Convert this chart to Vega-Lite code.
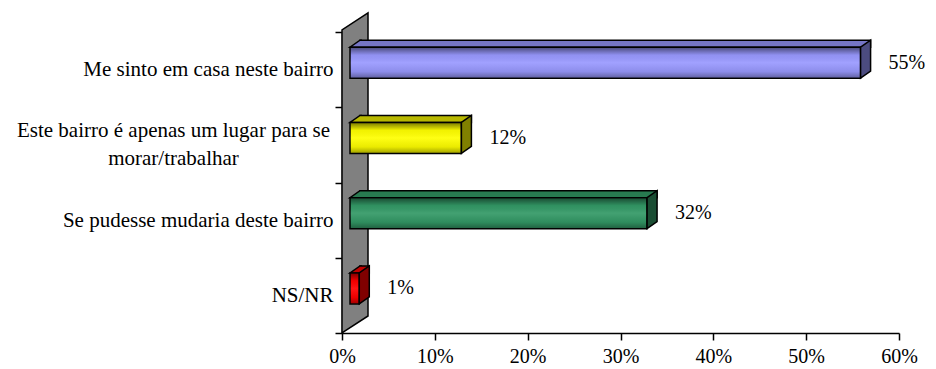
{
  "$schema": "https://vega.github.io/schema/vega-lite/v6.json",
  "width": 557,
  "height": 301,
  "autosize": {"type": "none"},
  "padding": {"left": 342, "top": 32, "right": 37, "bottom": 36},
  "background": "white",
  "config": {
    "view": {"stroke": null},
    "font": "Liberation Serif",
    "style": {"guide-label": {"font": "Liberation Serif"}},
    "axis": {"labelFont": "Liberation Serif", "labelColor": "black", "domainColor": "black", "tickColor": "black", "grid": false, "title": null}
  },
  "data": {
    "values": [
      {"cat": "Me sinto em casa neste bairro", "value": 55},
      {"cat": "Este bairro é apenas um lugar para se morar/trabalhar", "value": 12},
      {"cat": "Se pudesse mudaria deste bairro", "value": 32},
      {"cat": "NS/NR", "value": 1}
    ]
  },
  "transform": [{"calculate": "datum.value + '%'", "as": "label"}],
  "encoding": {
    "y": {
      "field": "cat",
      "type": "nominal",
      "sort": null,
      "scale": {
        "domain": ["Me sinto em casa neste bairro", "Este bairro é apenas um lugar para se morar/trabalhar", "Se pudesse mudaria deste bairro", "NS/NR"],
        "paddingInner": 0,
        "paddingOuter": 0
      },
      "axis": {
        "orient": "left",
        "tickBand": "extent",
        "tickSize": 7,
        "tickWidth": 1.5,
        "domainWidth": 1.5,
        "labelFont": "Liberation Serif",
        "labelFontSize": 21,
        "labelLimit": 400,
        "labelLineHeight": 28,
        "labelBaseline": "middle",
        "labelAlign": {"condition": {"test": "datum.value == 'Este bairro é apenas um lugar para se morar/trabalhar'", "value": "center"}, "value": "right"},
        "labelPadding": {"condition": {"test": "datum.value == 'Este bairro é apenas um lugar para se morar/trabalhar'", "value": 162}, "value": 2},
        "labelOffset": {"condition": {"test": "datum.value == 'Este bairro é apenas um lugar para se morar/trabalhar'", "value": -14}, "value": 0},
        "labelExpr": "datum.value == 'Este bairro é apenas um lugar para se morar/trabalhar' ? ['Este bairro é apenas um lugar para se', 'morar/trabalhar'] : datum.value"
      }
    }
  },
  "layer": [
    {
      "data": {"values": [{}]},
      "mark": {"type": "point", "shape": "M0,37.6L26,20.6L26,-282.4L0,-265.4Z", "size": 4, "filled": true, "fill": "#808080", "stroke": "black", "strokeWidth": 1.5, "opacity": 1},
      "encoding": {
        "x": {"datum": 0, "type": "quantitative"},
        "y": {"datum": "NS/NR", "type": "nominal"}
      }
    },
    {
      "mark": {"type": "bar", "orient": "horizontal", "height": 7, "yOffset": -26, "xOffset": 18, "x2Offset": 18, "stroke": "black", "strokeWidth": 1.5},
      "encoding": {
        "x": {"field": "value", "type": "quantitative", "scale": {"domain": [0, 60], "nice": false}, "axis": {"values": [0, 10, 20, 30, 40, 50, 60], "labelExpr": "datum.value + '%'", "labelFlush": false, "labelOverlap": false, "tickSize": 7, "tickWidth": 1.5, "domainWidth": 1.5, "labelFont": "Liberation Serif", "labelFontSize": 20, "labelPadding": 6}},
        "x2": {"datum": 0},
        "color": {"field": "cat", "type": "nominal", "legend": null, "scale": {"domain": ["Me sinto em casa neste bairro", "Este bairro é apenas um lugar para se morar/trabalhar", "Se pudesse mudaria deste bairro", "NS/NR"], "range": ["#7676C6", "#B8B800", "#287A50", "#C00000"]}}
      }
    },
    {
      "mark": {"type": "point", "shape": "M12,-22.5L0,-22.5L10,-29.5L12,-29.5", "size": 4, "filled": true, "xOffset": 8, "stroke": "black", "strokeWidth": 1.5, "opacity": 1},
      "encoding": {
        "x": {"datum": 0, "type": "quantitative"},
        "color": {"field": "cat", "type": "nominal", "legend": null, "scale": {"domain": ["Me sinto em casa neste bairro", "Este bairro é apenas um lugar para se morar/trabalhar", "Se pudesse mudaria deste bairro", "NS/NR"], "range": ["#7676C6", "#B8B800", "#287A50", "#C00000"]}}
      }
    },
    {
      "mark": {"type": "bar", "orient": "horizontal", "height": 31, "yOffset": -7, "xOffset": 8, "x2Offset": 8, "stroke": "black", "strokeWidth": 1.5},
      "encoding": {
        "x": {"field": "value", "type": "quantitative"},
        "x2": {"datum": 0},
        "color": {"field": "cat", "type": "nominal", "legend": null, "scale": {"domain": ["Me sinto em casa neste bairro", "Este bairro é apenas um lugar para se morar/trabalhar", "Se pudesse mudaria deste bairro", "NS/NR"], "range": ["#9999FF", "#FFFF00", "#339966", "#FF0000"]}}
      }
    },
    {
      "mark": {"type": "bar", "orient": "horizontal", "height": 30, "yOffset": -7, "xOffset": 8, "x2Offset": 8,
        "fill": {"gradient": "linear", "x1": 0, "y1": 0, "x2": 0, "y2": 1, "stops": [
          {"offset": 0, "color": "rgba(0,0,0,0.5)"},
          {"offset": 0.25, "color": "rgba(0,0,0,0.05)"},
          {"offset": 0.5, "color": "rgba(255,255,255,0.08)"},
          {"offset": 0.8, "color": "rgba(0,0,0,0.08)"},
          {"offset": 1, "color": "rgba(0,0,0,0.35)"}
        ]}},
      "encoding": {
        "x": {"field": "value", "type": "quantitative"},
        "x2": {"datum": 0}
      }
    },
    {
      "mark": {"type": "point", "shape": "M0,-22.5L10,-29.5L10,1.5L0,8.5Z", "size": 4, "filled": true, "xOffset": 8, "stroke": "black", "strokeWidth": 1.5, "opacity": 1},
      "encoding": {
        "x": {"field": "value", "type": "quantitative"},
        "color": {"field": "cat", "type": "nominal", "legend": null, "scale": {"domain": ["Me sinto em casa neste bairro", "Este bairro é apenas um lugar para se morar/trabalhar", "Se pudesse mudaria deste bairro", "NS/NR"], "range": ["#4C4C80", "#808000", "#1A4D33", "#800000"]}}
      }
    },
    {
      "mark": {"type": "text", "align": "left", "baseline": "middle", "xOffset": 8, "dx": 28, "yOffset": -7, "fontSize": 20, "font": "Liberation Serif", "color": "black"},
      "encoding": {
        "x": {"field": "value", "type": "quantitative"},
        "text": {"field": "label", "type": "nominal"}
      }
    }
  ],
  "resolve": {"scale": {"color": "independent"}}
}
